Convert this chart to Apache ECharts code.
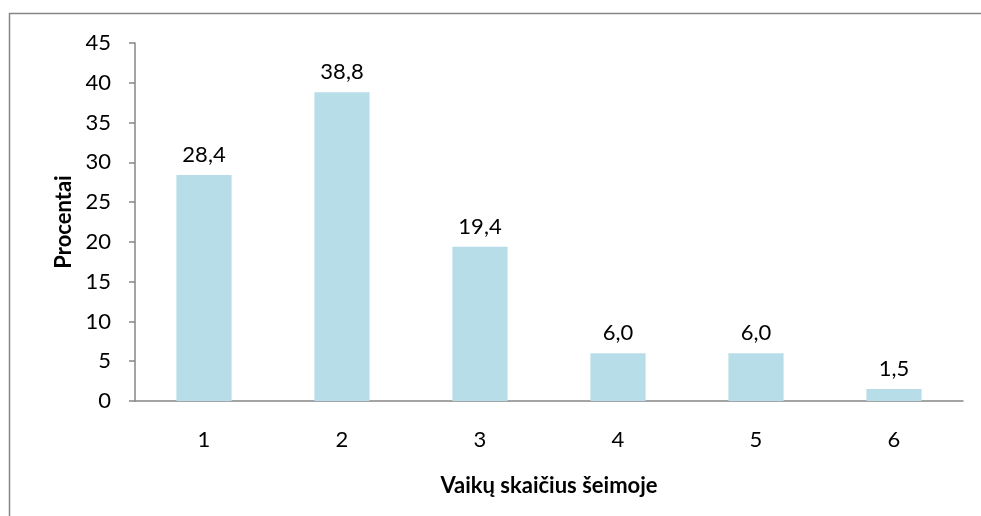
<!DOCTYPE html>
<html>
<head>
<meta charset="utf-8">
<script src="https://cdn.jsdelivr.net/npm/echarts@6/dist/echarts.min.js"></script>
<style>
  html, body { margin: 0; padding: 0; background: #fff; }
  #main { width: 981px; height: 516px; }
</style>
</head>
<body>
<div id="main"></div>
<script>
var chartDom = document.getElementById('main');
var myChart = echarts.init(chartDom);
var option;

// kategorijos (vaikų skaičius)
const categories = ['1', '2', '3', '4', '5', '6'];
// procentai
const values = [28.4, 38.8, 19.4, 6.0, 6.0, 1.5];

const font = 'Lato, "Open Sans", sans-serif';
const axisGray = '#868686';

option = {
  animation: false,
  backgroundColor: '#fff',
  // rėmelis (matosi tik viršus ir kairė)
  graphic: [{
    type: 'rect',
    shape: { x: 9.5, y: 13.5, width: 1000, height: 600 },
    style: { fill: 'none', stroke: axisGray, lineWidth: 1.5 },
    silent: true
  }],
  grid: {
    left: 135,
    right: 18,
    top: 43,
    bottom: 115
  },
  xAxis: {
    type: 'category',
    data: categories,
    name: 'Vaikų skaičius šeimoje',
    nameLocation: 'middle',
    nameGap: 74,
    nameTextStyle: { fontFamily: font, fontWeight: 'bold', fontSize: 22, color: '#000' },
    axisLine: { lineStyle: { color: axisGray, width: 1.5 } },
    axisTick: { length: 6, lineStyle: { color: axisGray, width: 1.5 } },
    axisLabel: { fontFamily: font, fontSize: 22, color: '#000', margin: 28 }
  },
  yAxis: {
    type: 'value',
    min: 0,
    max: 45,
    interval: 5,
    name: 'Procentai',
    nameLocation: 'middle',
    nameGap: 57,
    nameRotate: 90,
    nameTextStyle: { fontFamily: font, fontWeight: 'bold', fontSize: 22, color: '#000' },
    splitLine: { show: false },
    axisLine: { show: true, lineStyle: { color: axisGray, width: 1.5 } },
    axisTick: { show: true, length: 6, lineStyle: { color: axisGray, width: 1.5 } },
    axisLabel: { fontFamily: font, fontSize: 22, color: '#000', margin: 24 }
  },
  series: [{
    type: 'bar',
    data: values,
    barWidth: '40%',
    itemStyle: { color: '#B7DDE8' },
    label: {
      show: true,
      position: 'top',
      distance: 9,
      fontFamily: font,
      fontSize: 22,
      color: '#000',
      formatter: function (p) {
        return p.value.toFixed(1).replace('.', ','); // kablelis vietoj taško
      }
    }
  }]
};

option && myChart.setOption(option);
</script>
</body>
</html>
